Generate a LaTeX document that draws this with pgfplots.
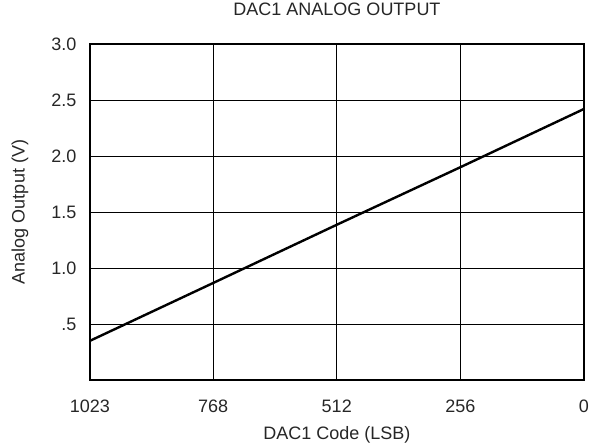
\documentclass[border=0pt]{standalone}
\usepackage{pgfplots}
\pgfplotsset{compat=1.18}
\usepackage{fontspec}
\setmainfont{Liberation Sans}
\begin{document}
\begin{tikzpicture}
\begin{axis}[
  scale only axis,
  width=494pt, height=336pt,
  xmin=0, xmax=1023, ymin=0, ymax=3,
  x dir=reverse,
  xtick={0,256,512,768,1023},
  xticklabels={0,256,512,768,1023},
  ytick={0.5,1,1.5,2,2.5,3},
  yticklabels={.5,1.0,1.5,2.0,2.5,3.0},
  major tick length=0pt,
  grid=major,
  major grid style={black, line width=0.9pt},
  axis line style={black, line width=2.4pt},
  font=\fontsize{18}{21}\selectfont,
  /pgf/number format/assume math mode=true,
  every tick label/.append style={text=black!85},
  xticklabel style={anchor=center, yshift=-26pt},
  yticklabel style={anchor=east, xshift=-10pt},
  title={DAC1 ANALOG OUTPUT},
  title style={at={(axis description cs:0.5,1)}, anchor=center, yshift=29pt, text=black!85},
  xlabel={DAC1 Code (LSB)},
  xlabel style={at={(axis description cs:0.5,0)}, anchor=center, yshift=-55pt, text=black!85},
  ylabel={Analog Output (V)},
  ylabel style={at={(axis description cs:-0.1417,0.5)}, anchor=center, text=black!85},
  clip=false,
]
\addplot[black, line width=2.4pt] coordinates {(1023,0.35) (768,0.866) (512,1.386) (256,1.90) (0,2.42)};
\end{axis}
\pgfresetboundingbox
\path[use as bounding box] (-90pt,-64pt) rectangle (499pt,380pt);
\end{tikzpicture}
\end{document}
